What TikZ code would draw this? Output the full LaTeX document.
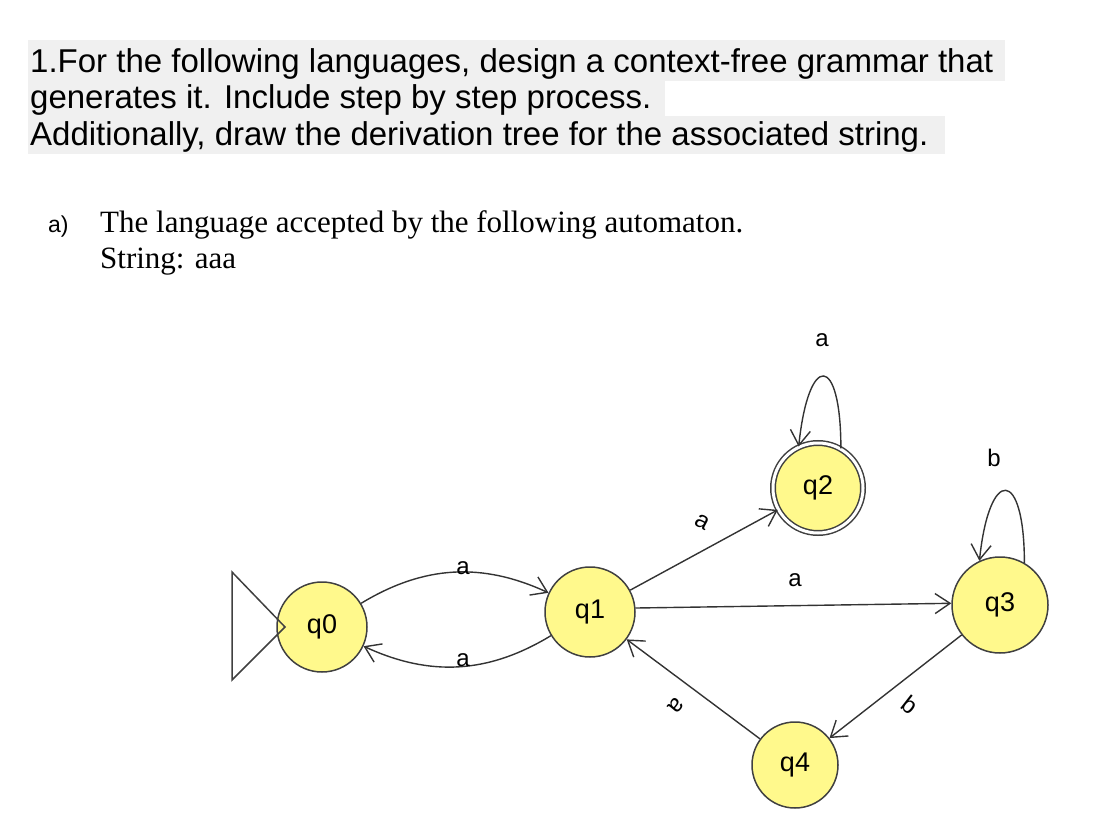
\documentclass[tikz,border=0pt]{standalone}
\usepackage{fontspec}
\setmainfont{Liberation Serif}
\newfontfamily\arialf{Liberation Sans}
\usetikzlibrary{arrows.meta}
\begin{document}
\begin{tikzpicture}[x=1pt,y=-1pt,
  st/.style={circle,draw=black!75,fill=yellow!45,line width=1.5pt,minimum size=90pt,inner sep=0pt,font=\arialf\fontsize{27}{30}\selectfont},
  ed/.style={line width=1.4pt,draw=black!80,-{Straight Barb[length=15pt,width=20pt,line width=1.4pt]}},
  lb/.style={font=\arialf\fontsize{24}{28}\selectfont,inner sep=1pt},
  hd/.style={anchor=base west,inner sep=0pt,font=\arialf\fontsize{33}{38}\selectfont}]
\useasboundingbox (0,0) rectangle (1094,834);
\fill[black!6] (28,40) rectangle (1005,81);
\fill[black!6] (28,81) rectangle (665,116);
\fill[black!6] (28,116) rectangle (945,154);
\node[hd] (h1) at (30,73) {1.For the following languages, design a context-free grammar that};
\node[hd] (h2) at (30,109) {generates it. Include step by step process.};
\node[hd] (h3) at (30,146) {Additionally, draw the derivation tree for the associated string.};
\node[anchor=base west,inner sep=0pt,font=\arialf\fontsize{23}{26}\selectfont] (pa) at (48,233) {a)};
\node[anchor=base west,inner sep=0pt,font=\fontsize{31}{35}\selectfont] (pl1) at (100,233) {The language accepted by the following automaton.};
\node[anchor=base west,inner sep=0pt,font=\fontsize{31}{35}\selectfont] (pl2) at (100,269) {String: aaa};

\node[st] (q0) at (322,627) {q0};
\node[st] (q1) at (590,612) {q1};
\node[st,double,double distance=3pt] (q2) at (818,488) {q2};
\node[st,minimum size=96pt] (q3) at (1000,605) {q3};
\node[st,minimum size=86pt] (q4) at (795,765) {q4};

\draw[line width=1.5pt,draw=black!75] (232,572) -- (285,627) -- (232,680) -- cycle;

\draw[ed] (q0) to[bend left=28] (q1);
\draw[ed] (q1) to[bend left=28] (q0);
\draw[ed] (q1) -- (q2);
\draw[ed] (q1.5) -- (q3.178);
\draw[ed] (q3) -- (q4);
\draw[ed] (q4) -- (q1);
\draw[ed] (q2.60) .. controls +(0,-95) and +(10,-95) .. (q2.115);
\draw[ed] (q3.60) .. controls +(0,-95) and +(10,-95) .. (q3.115);

\node[lb] (la1) at (463,568) {a};
\node[lb] (la2) at (463,660) {a};
\node[lb,rotate=-28] (la3) at (702,522) {a};
\node[lb] (la4) at (795,580) {a};
\node[lb,rotate=-38] (la5) at (910,705) {b};
\node[lb,rotate=-130] (la6) at (676,706) {a};
\node[lb] (la7) at (822,340) {a};
\node[lb] (la8) at (994,458) {b};
\end{tikzpicture}
\end{document}
